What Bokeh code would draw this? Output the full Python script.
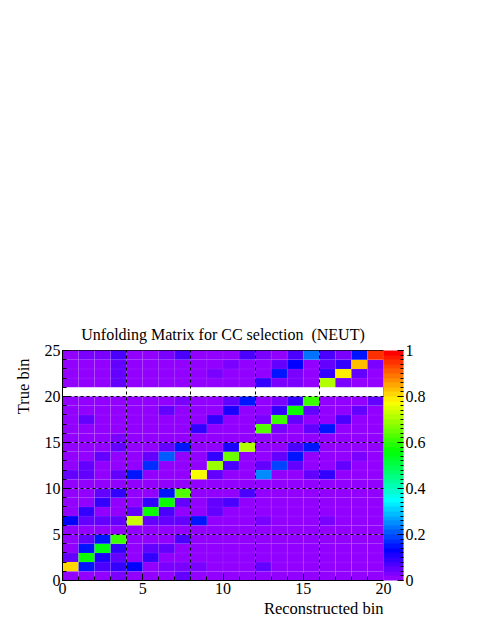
import colorsys
from bokeh.plotting import figure
from bokeh.models import (Range1d, LinearColorMapper, ColorBar, FixedTicker,
                          SingleIntervalTicker, Title, ColumnDataSource)
from bokeh.embed import file_html
from bokeh.resources import INLINE

# ---- data: unfolding matrix, rows = true bin (0..24), columns = reco bin (0..19)
row_00 = [0.01, 0.01, 0.01, 0.03, 0.01, 0.01, 0.01, 0.04, 0.01, 0.01, 0.01, 0.01, 0.01, 0.01, 0.01, 0.01, 0.01, 0.01, 0.01, 0.01]
row_01 = [0.81, 0.14, 0.07, 0.08, 0.13, 0.01, 0.03, 0.03, 0.03, 0.01, 0.01, 0.01, 0.04, 0.01, 0.01, 0.01, 0.01, 0.01, 0.01, 0.01]
row_02 = [0.04, 0.58, 0.10, 0.05, 0.01, 0.08, 0.01, 0.01, 0.01, 0.01, 0.01, 0.01, 0.01, 0.01, 0.01, 0.01, 0.01, 0.01, 0.01, 0.01]
row_03 = [0.01, 0.14, 0.54, 0.09, 0.01, 0.04, 0.05, 0.01, 0.01, 0.01, 0.01, 0.01, 0.01, 0.01, 0.01, 0.01, 0.01, 0.01, 0.01, 0.01]
row_04 = [0.01, 0.04, 0.15, 0.60, 0.01, 0.01, 0.01, 0.07, 0.01, 0.01, 0.01, 0.01, 0.01, 0.01, 0.01, 0.01, 0.01, 0.01, 0.01, 0.01]
row_05 = [0.01, 0.01, 0.01, 0.01, 0.01, 0.01, 0.01, 0.01, 0.01, 0.01, 0.01, 0.01, 0.01, 0.01, 0.01, 0.01, 0.01, 0.01, 0.01, 0.01]
row_06 = [0.13, 0.04, 0.04, 0.04, 0.72, 0.05, 0.04, 0.04, 0.15, 0.01, 0.01, 0.01, 0.03, 0.01, 0.01, 0.01, 0.03, 0.01, 0.01, 0.01]
row_07 = [0.01, 0.08, 0.01, 0.01, 0.04, 0.58, 0.06, 0.01, 0.01, 0.05, 0.01, 0.01, 0.01, 0.01, 0.01, 0.01, 0.01, 0.01, 0.01, 0.01]
row_08 = [0.01, 0.01, 0.08, 0.01, 0.01, 0.08, 0.56, 0.04, 0.01, 0.04, 0.07, 0.01, 0.01, 0.01, 0.01, 0.01, 0.01, 0.01, 0.01, 0.01]
row_09 = [0.01, 0.01, 0.05, 0.08, 0.01, 0.01, 0.14, 0.62, 0.01, 0.01, 0.01, 0.06, 0.01, 0.01, 0.01, 0.01, 0.01, 0.01, 0.01, 0.01]
row_10 = [0.01, 0.01, 0.01, 0.01, 0.01, 0.01, 0.01, 0.01, 0.01, 0.01, 0.01, 0.01, 0.01, 0.01, 0.01, 0.01, 0.01, 0.01, 0.01, 0.01]
row_11 = [0.05, 0.05, 0.01, 0.04, 0.14, 0.01, 0.01, 0.01, 0.77, 0.05, 0.01, 0.01, 0.24, 0.01, 0.01, 0.04, 0.08, 0.01, 0.01, 0.01]
row_12 = [0.01, 0.04, 0.01, 0.01, 0.01, 0.16, 0.01, 0.01, 0.01, 0.68, 0.06, 0.01, 0.05, 0.19, 0.05, 0.01, 0.01, 0.04, 0.01, 0.01]
row_13 = [0.01, 0.01, 0.04, 0.01, 0.01, 0.05, 0.21, 0.01, 0.01, 0.08, 0.65, 0.01, 0.01, 0.05, 0.14, 0.01, 0.01, 0.01, 0.03, 0.01]
row_14 = [0.01, 0.01, 0.01, 0.04, 0.01, 0.01, 0.05, 0.14, 0.01, 0.01, 0.10, 0.71, 0.01, 0.01, 0.06, 0.14, 0.01, 0.01, 0.01, 0.01]
row_15 = [0.01, 0.01, 0.01, 0.02, 0.01, 0.01, 0.01, 0.01, 0.01, 0.01, 0.01, 0.01, 0.01, 0.01, 0.01, 0.01, 0.01, 0.01, 0.01, 0.01]
row_16 = [0.01, 0.01, 0.01, 0.01, 0.01, 0.01, 0.01, 0.01, 0.08, 0.01, 0.01, 0.01, 0.62, 0.03, 0.01, 0.05, 0.14, 0.01, 0.01, 0.01]
row_17 = [0.01, 0.04, 0.01, 0.01, 0.01, 0.01, 0.01, 0.01, 0.01, 0.08, 0.01, 0.01, 0.03, 0.60, 0.04, 0.01, 0.01, 0.07, 0.01, 0.01]
row_18 = [0.01, 0.01, 0.01, 0.01, 0.01, 0.01, 0.04, 0.01, 0.01, 0.01, 0.10, 0.01, 0.01, 0.08, 0.58, 0.04, 0.01, 0.01, 0.04, 0.01]
row_19 = [0.01, 0.01, 0.01, 0.01, 0.01, 0.01, 0.01, 0.03, 0.01, 0.01, 0.05, 0.14, 0.01, 0.03, 0.08, 0.60, 0.01, 0.01, 0.01, 0.04]
row_20 = [None] * 20  # empty true bin (not drawn)
row_21 = [0.01, 0.01, 0.01, 0.04, 0.01, 0.01, 0.01, 0.01, 0.01, 0.01, 0.01, 0.01, 0.08, 0.03, 0.03, 0.01, 0.70, 0.03, 0.01, 0.01]
row_22 = [0.01, 0.01, 0.01, 0.04, 0.01, 0.01, 0.01, 0.01, 0.01, 0.03, 0.01, 0.01, 0.01, 0.15, 0.03, 0.01, 0.08, 0.78, 0.04, 0.01]
row_23 = [0.01, 0.01, 0.01, 0.04, 0.01, 0.01, 0.01, 0.01, 0.01, 0.01, 0.03, 0.01, 0.01, 0.05, 0.13, 0.01, 0.04, 0.08, 0.82, 0.02]
row_24 = [0.01, 0.03, 0.03, 0.06, 0.01, 0.01, 0.03, 0.06, 0.01, 0.01, 0.01, 0.07, 0.03, 0.01, 0.07, 0.22, 0.06, 0.02, 0.15, 0.95]

rows = [row_00, row_01, row_02, row_03, row_04, row_05, row_06, row_07, row_08, row_09,
        row_10, row_11, row_12, row_13, row_14, row_15, row_16, row_17, row_18, row_19,
        row_20, row_21, row_22, row_23, row_24]

n_reco = 20
n_true = 25

xs, ys, zs = [], [], []
for j, row in enumerate(rows):
    for i, z in enumerate(row):
        if z is None:
            continue
        xs.append(i + 0.5)
        ys.append(j + 0.5)
        zs.append(z)
src = ColumnDataSource(dict(x=xs, y=ys, z=zs))

# ROOT "pretty" palette (SetPalette(1)): 50 HLS colours, hue 280 -> 0
palette = []
for k in range(50):
    hue = 280.0 - (k + 1) * (280.0 / 50)
    r, g, b = colorsys.hls_to_rgb(hue / 360.0, 0.5, 1.0)
    palette.append("#%02x%02x%02x" % (int(round(r * 255)), int(round(g * 255)), int(round(b * 255))))

mapper = LinearColorMapper(palette=palette, low=0, high=1)

FONT = "Liberation Serif"

p = figure(frame_width=321, frame_height=230, output_backend="svg", toolbar_location=None,
           x_range=Range1d(0, n_reco), y_range=Range1d(0, n_true),
           min_border_left=62, min_border_right=76, min_border_top=350, min_border_bottom=40)
p.title = Title(text="Unfolding Matrix for CC selection \u00a0(NEUT)", align="center",
                text_font=FONT, text_font_size="16px", text_font_style="normal",
                text_color="black", standoff=16)

p.rect(x="x", y="y", width=1, height=1, source=src,
       fill_color={"field": "z", "transform": mapper},
       line_color="white", line_alpha=0.06, line_width=1)

p.outline_line_color = "black"
p.outline_line_width = 1
p.background_fill_color = "white"

# dotted grid
p.xgrid.ticker = FixedTicker(ticks=[4, 8, 12, 16])
p.ygrid.ticker = FixedTicker(ticks=[5, 10, 15, 20])
for g in (p.xgrid, p.ygrid):
    g.grid_line_color = "black"
    g.grid_line_dash = "3 3"
    g.grid_line_width = 1
    g.level = "overlay"

p.xaxis.ticker = SingleIntervalTicker(interval=5, num_minor_ticks=5)
p.yaxis.ticker = SingleIntervalTicker(interval=5, num_minor_ticks=5)
for ax in (p.xaxis, p.yaxis):
    ax.major_tick_in = 7
    ax.major_tick_out = 0
    ax.minor_tick_in = 4
    ax.minor_tick_out = 0
    ax.major_label_text_font = FONT
    ax.major_label_text_font_size = "16px"
    ax.major_label_text_color = "black"
    ax.axis_line_color = "black"
    ax.major_tick_line_color = "black"
    ax.minor_tick_line_color = "black"
p.xaxis.major_label_standoff = 2
p.yaxis.major_label_standoff = 2

p.add_layout(Title(text="Reconstructed bin", align="right", text_font=FONT,
                   text_font_size="16.5px", text_font_style="normal", standoff=0,
                   text_color="black"), "below")
p.add_layout(Title(text="True bin", align="right", text_font=FONT,
                   text_font_size="16.5px", text_font_style="normal", standoff=18,
                   offset=8, text_color="black"), "left")

cb = ColorBar(color_mapper=mapper, width=20, height=230, padding=0, margin=3,
              ticker=FixedTicker(ticks=[0, 0.2, 0.4, 0.6, 0.8, 1.0],
                                 minor_ticks=[k / 50 for k in range(51)]),
              major_label_overrides={0: "0", 0.2: "0.2", 0.4: "0.4", 0.6: "0.6", 0.8: "0.8", 1.0: "1"},
              major_label_text_font=FONT, major_label_text_font_size="16px",
              major_label_text_color="black",
              major_tick_in=6, major_tick_out=0, minor_tick_in=3, minor_tick_out=0,
              major_tick_line_color="black", minor_tick_line_color="black",
              label_standoff=2, bar_line_color=None)
p.add_layout(cb, "right")

open("out.html", "w").write(file_html(p, INLINE))
